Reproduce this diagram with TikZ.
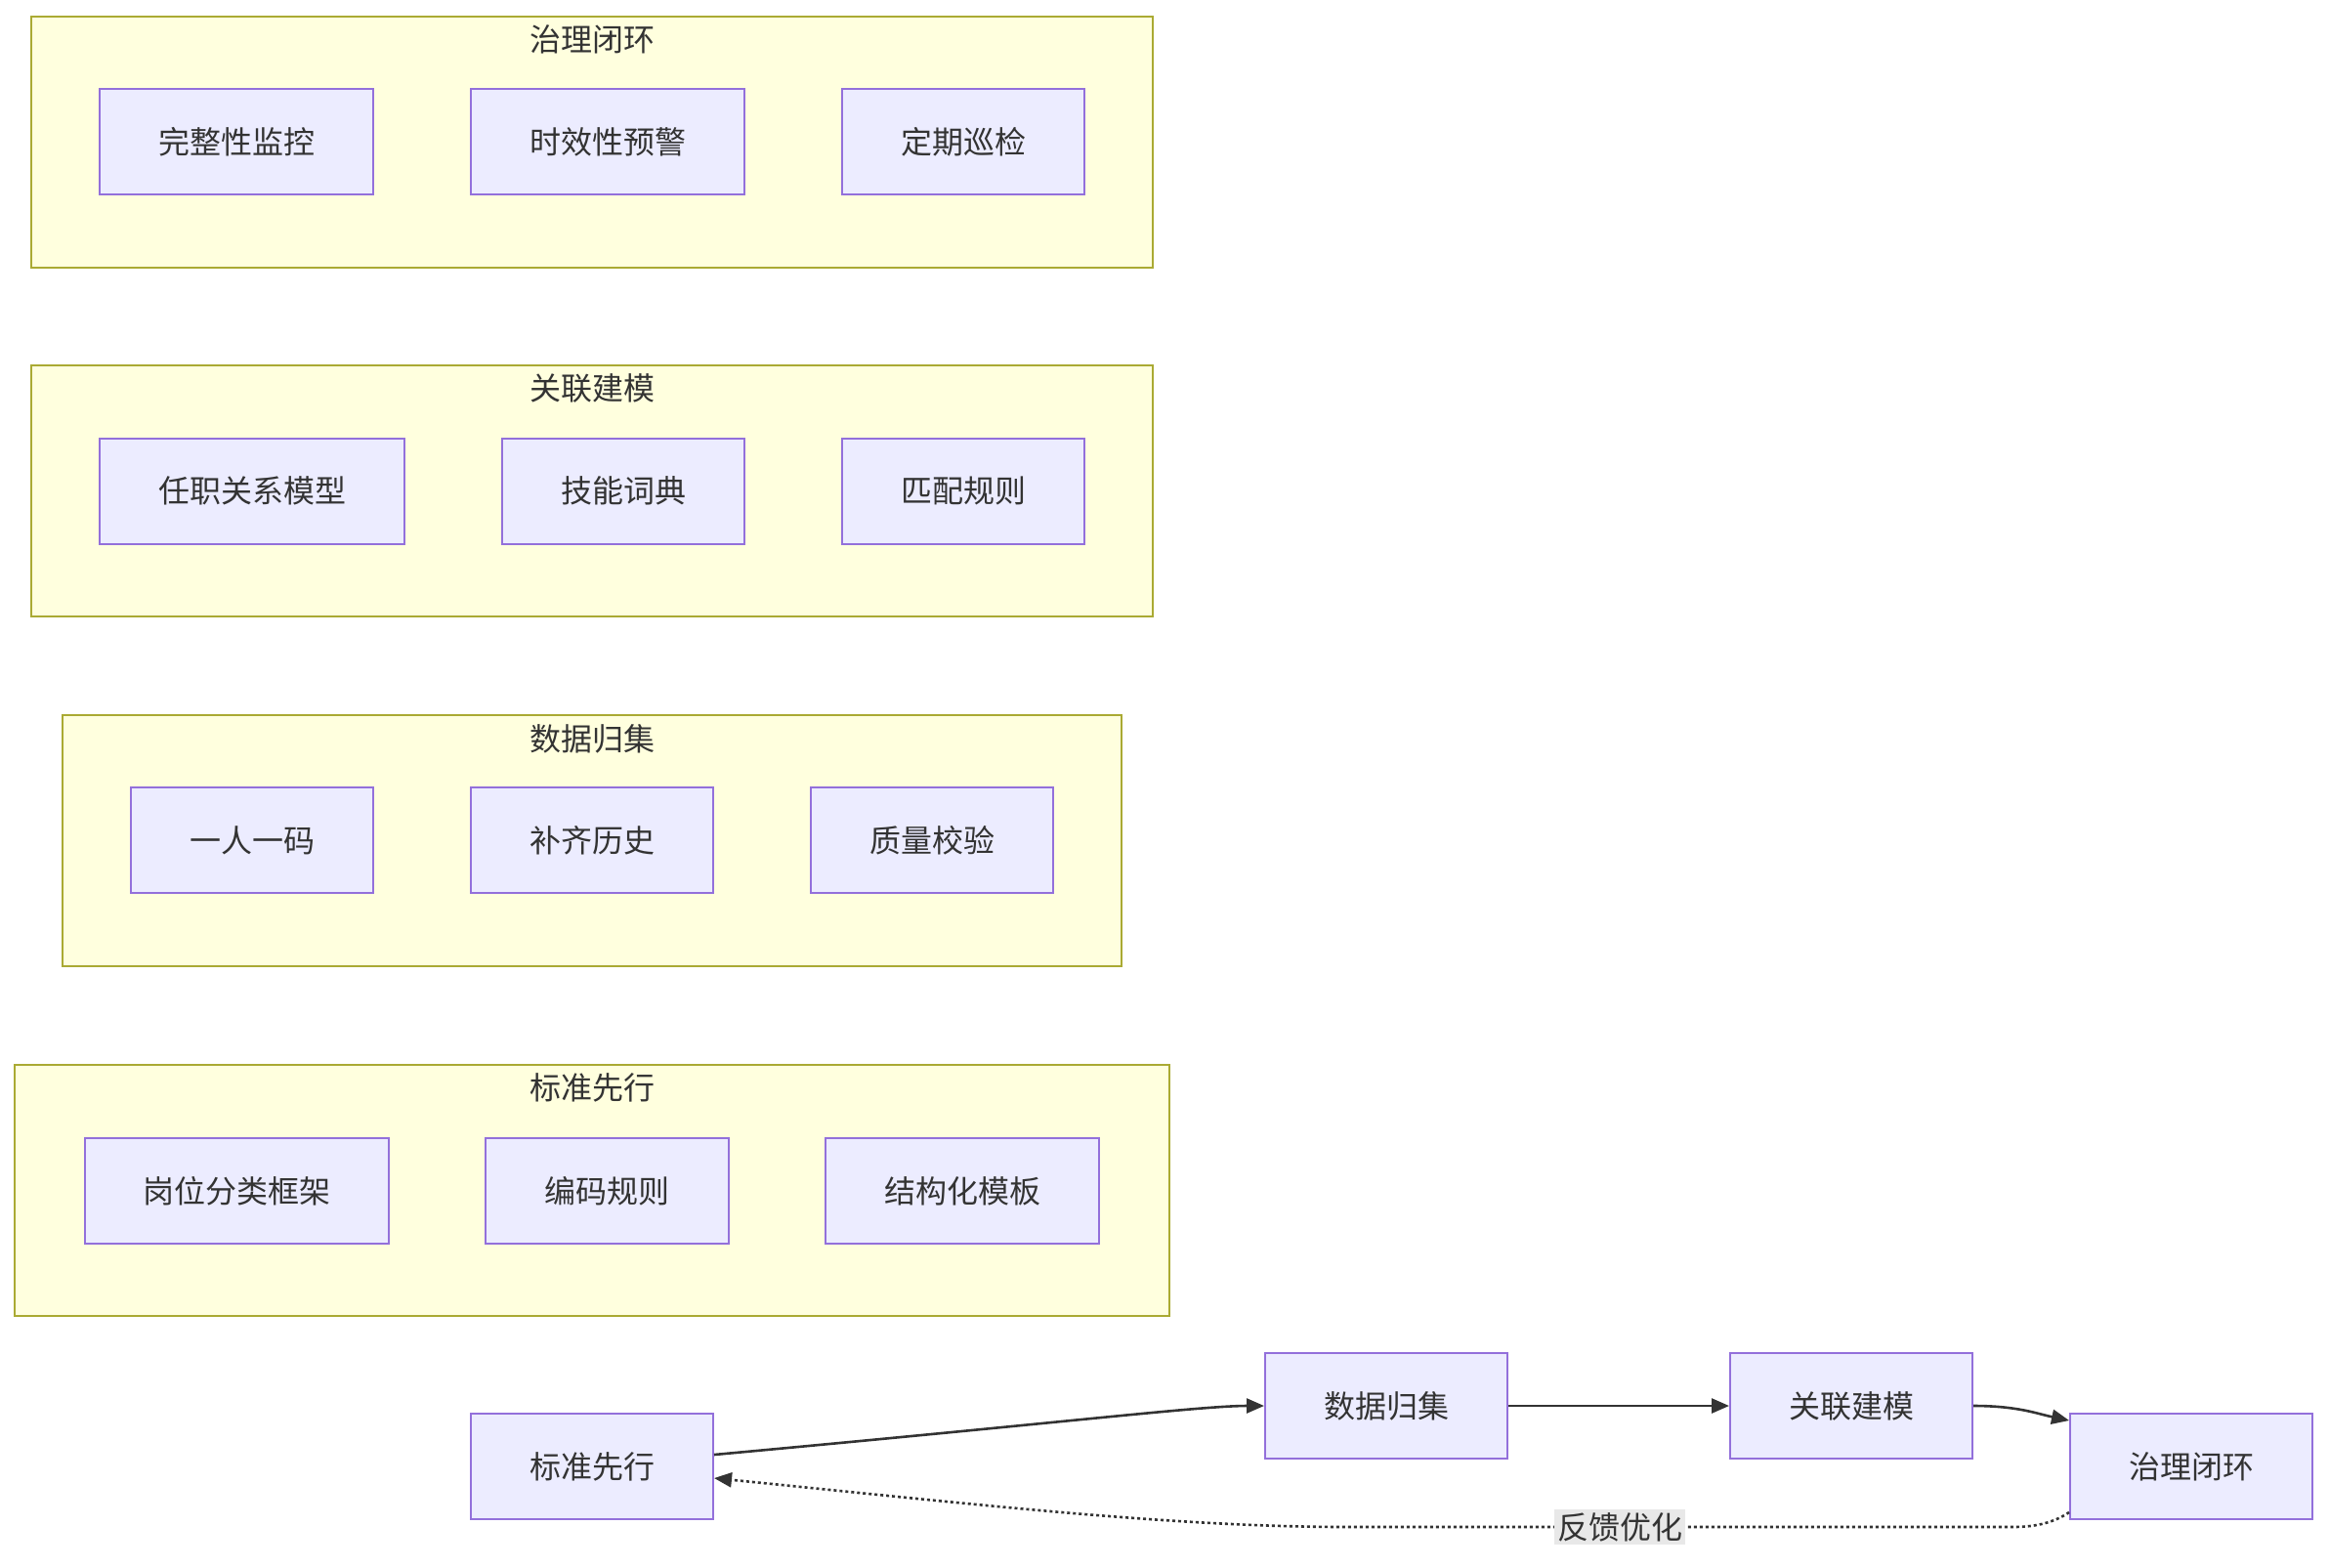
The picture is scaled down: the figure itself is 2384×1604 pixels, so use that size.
\documentclass[tikz,border=0pt]{standalone}
\usepackage{fontspec}
\setmainfont{Noto Sans CJK SC}
\usetikzlibrary{arrows.meta}
\definecolor{nodefill}{HTML}{ECECFF}
\definecolor{nodeline}{HTML}{9370DB}
\definecolor{clfill}{HTML}{FFFFDE}
\definecolor{clline}{HTML}{AAAA33}
\definecolor{txt}{HTML}{333333}
\definecolor{lblbg}{HTML}{E8E8E8}
\tikzset{
  box/.style={draw=nodeline, fill=nodefill, line width=2pt, minimum height=108pt, inner sep=0pt,
    text=txt, font=\fontsize{32}{36}\selectfont},
  cluster/.style={draw=clline, fill=clfill, line width=2pt, minimum height=257pt, inner sep=0pt},
  ctitle/.style={text=txt, font=\fontsize{32}{36}\selectfont, inner sep=0pt},
  edge/.style={draw=txt, line width=2.6pt, -{Triangle[length=18pt,width=15pt]}},
  fb/.style={draw=txt, line width=2.6pt, dash pattern=on 3pt off 3pt, -{Triangle[length=18pt,width=15pt]}},
  lbl/.style={fill=lblbg, text=txt, font=\fontsize{32}{36}\selectfont, inner sep=3pt}
}
\begin{document}
\begin{tikzpicture}[x=1pt,y=-1pt]
\useasboundingbox (0,0) rectangle (2384,1604);
% clusters
\node[cluster, minimum width=1148pt] (cA) at (606,145.5) {};
\node[ctitle] (tA) at (606,40) {治理闭环};
\node[box, minimum width=280pt] (a1) at (242,145) {完整性监控};
\node[box, minimum width=280pt] (a2) at (622,145) {时效性预警};
\node[box, minimum width=248pt] (a3) at (986,145) {定期巡检};

\node[cluster, minimum width=1148pt] (cB) at (606,502.5) {};
\node[ctitle] (tB) at (606,397) {关联建模};
\node[box, minimum width=312pt] (b1) at (258,502.5) {任职关系模型};
\node[box, minimum width=248pt] (b2) at (638,502.5) {技能词典};
\node[box, minimum width=248pt] (b3) at (986,502.5) {匹配规则};

\node[cluster, minimum width=1084pt] (cC) at (606,860) {};
\node[ctitle] (tC) at (606,756) {数据归集};
\node[box, minimum width=248pt] (c1) at (258,860) {一人一码};
\node[box, minimum width=248pt] (c2) at (606,860) {补齐历史};
\node[box, minimum width=248pt] (c3) at (954,860) {质量校验};

\node[cluster, minimum width=1182pt] (cD) at (606,1218.5) {};
\node[ctitle] (tD) at (606,1113) {标准先行};
\node[box, minimum width=311pt] (d1) at (242,1219) {岗位分类框架};
\node[box, minimum width=249pt] (d2) at (621,1219) {编码规则};
\node[box, minimum width=280pt] (d3) at (985,1219) {结构化模板};

% main flow
\node[box, minimum width=248pt] (s1) at (606,1501) {标准先行};
\node[box, minimum width=248pt] (s2) at (1419,1439) {数据归集};
\node[box, minimum width=248pt] (s3) at (1895,1439) {关联建模};
\node[box, minimum width=248pt] (s4) at (2243,1501) {治理闭环};

\draw[edge] ([yshift=12pt]s1.east) .. controls (1100,1455) and (1230,1439) .. (s2.west);
\draw[edge] (s2.east) -- (s3.west);
\draw[edge] (s3.east) .. controls (2065,1439) and (2085,1447) .. ([yshift=-8pt]s4.north west);
\coordinate (m1) at (2060,1563);
\coordinate (m2) at (1380,1563);
\draw[fb] ([yshift=8pt]s4.south west) .. controls (2100,1560) and (2080,1563) .. (m1) -- (m2)
  .. controls (1200,1563) and (1000,1540) .. ([yshift=-12pt]s1.east);
\node[lbl] (fl) at (1658,1563) {反馈优化};
\end{tikzpicture}
\end{document}
